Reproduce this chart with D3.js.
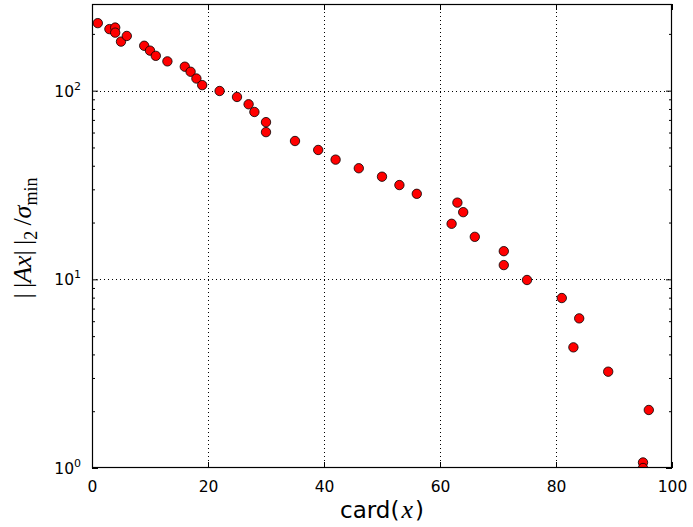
<!DOCTYPE html>
<html><head><meta charset="utf-8">
<script src="https://cdn.jsdelivr.net/npm/d3@7"></script>
<style>body{margin:0;background:#fff}svg{display:block}</style>
</head><body>
<svg id="c" width="693" height="527"></svg>
<script>
const cardX = [1,3,4,4,5,6,9,10,11,13,16,17,18,19,22,25,27,28,30,30,35,39,42,46,50,53,56,63,64,62,66,71,71,75,81,84,83,89,96,95,95];
const ratio = [228,212,216,203,182,195,173,163,153,143,134,126,116,107,99.6,92.6,84.7,77.1,68.1,60.3,54.1,48.5,43.1,38.8,35.0,31.6,28.4,25.5,22.7,19.7,16.8,14.1,11.9,9.92,7.96,6.21,4.36,3.24,2.03,1.07,1.0];
const xTicks = [0,20,40,60,80,100];
const yMajor = [1,10,100];
const yMinor = [2,3,4,5,6,7,8,9,20,30,40,50,60,70,80,90,200];
const yExp = ["0","1","2"];

const L=92,R=672,T=4,B=468;
const svg=d3.select("#c");
const x=d3.scaleLinear().domain([0,100]).range([L,R]);
const y=d3.scaleLog().domain([1,288]).range([B,T]);

svg.append("defs").append("clipPath").attr("id","clip")
 .append("rect").attr("x",L).attr("y",T).attr("width",R-L).attr("height",B-T);

// grid
const g=svg.append("g").attr("stroke","#000").attr("stroke-width",1).attr("stroke-dasharray","1,3");
g.selectAll(".gx").data(xTicks.slice(1,-1)).join("line")
 .attr("x1",d=>Math.round(x(d))+0.5).attr("x2",d=>Math.round(x(d))+0.5).attr("y1",T).attr("y2",B);
g.selectAll(".gy").data(yMajor.slice(1)).join("line")
 .attr("y1",d=>Math.round(y(d))+0.5).attr("y2",d=>Math.round(y(d))+0.5).attr("x1",L).attr("x2",R);

// axes via d3 axis with inner ticks
const ax=svg.append("g");
const xb=d3.axisBottom(x).tickValues(xTicks).tickSize(-6).tickPadding(10).tickFormat(d3.format("d"));
const xt=d3.axisTop(x).tickValues(xTicks).tickSize(-6).tickFormat("");
ax.append("g").attr("transform",`translate(0,${B})`).call(xb);
ax.append("g").attr("transform",`translate(0,${T})`).call(xt);
const yl=d3.axisLeft(y).tickValues(yMajor).tickSize(-6).tickFormat("");
const yr=d3.axisRight(y).tickValues(yMajor).tickSize(-6).tickFormat("");
const ylm=d3.axisLeft(y).tickValues(yMinor).tickSize(-3).tickFormat("");
const yrm=d3.axisRight(y).tickValues(yMinor).tickSize(-3).tickFormat("");
ax.append("g").attr("transform",`translate(${L},0)`).call(yl);
ax.append("g").attr("transform",`translate(${R},0)`).call(yr);
ax.append("g").attr("transform",`translate(${L},0)`).call(ylm);
ax.append("g").attr("transform",`translate(${R},0)`).call(yrm);
ax.selectAll(".domain").remove();
ax.selectAll("line").attr("stroke","#000");
ax.selectAll("g").attr("font-family","DejaVu Sans").attr("font-size",15.5);
ax.selectAll("text").attr("fill","#000").attr("font-family","DejaVu Sans").attr("font-size",15.5).attr("dy","0.9em");

// y tick labels 10^k
const ylab=svg.append("g").attr("font-family","DejaVu Sans").attr("fill","#000");
yMajor.forEach((v,i)=>{
  const t=ylab.append("text").attr("x",L-11).attr("y",y(v)+6).attr("text-anchor","end");
  t.append("tspan").attr("font-size",15.5).text("10");
  t.append("tspan").attr("font-size",11).attr("dy",-7).text(yExp[i]);
});

// points
svg.append("g").attr("clip-path","url(#clip)")
 .selectAll("circle").data(cardX.map((d,i)=>[d,ratio[i]])).join("circle")
 .attr("cx",d=>x(d[0])).attr("cy",d=>y(d[1])).attr("r",4.7)
 .attr("fill","#ff0000").attr("stroke","#000").attr("stroke-width",0.8);

// frame
svg.append("rect").attr("x",L+0.5).attr("y",T+0.5).attr("width",R-L-1).attr("height",B-T-1)
 .attr("fill","none").attr("stroke","#000").attr("stroke-width",1.2);

// x label
const xl=svg.append("text").attr("x",(L+R)/2).attr("y",518).attr("text-anchor","middle")
 .attr("font-size",23).attr("fill","#000");
xl.append("tspan").attr("font-family","DejaVu Sans").text("card(");
xl.append("tspan").attr("font-family","Liberation Serif").attr("font-style","italic").attr("font-size",26).attr("dx",2).text("x");
xl.append("tspan").attr("font-family","DejaVu Sans").attr("dx",2).text(")");

// y label
const yt=svg.append("text").attr("transform",`translate(31,${(T+B)/2+2}) rotate(-90)`)
 .attr("text-anchor","middle").attr("font-family","Liberation Serif").attr("font-size",26).attr("fill","#000");
yt.append("tspan").text("|\u2009|");
yt.append("tspan").attr("font-style","italic").text("Ax");
yt.append("tspan").text("|\u2009|");
yt.append("tspan").attr("font-size",18).attr("dy",6).text("2");
yt.append("tspan").attr("dy",-6).text("\u2009/");
yt.append("tspan").attr("font-style","italic").text("σ");
yt.append("tspan").attr("font-size",18).attr("dy",6).text("min");
</script>
</body></html>
